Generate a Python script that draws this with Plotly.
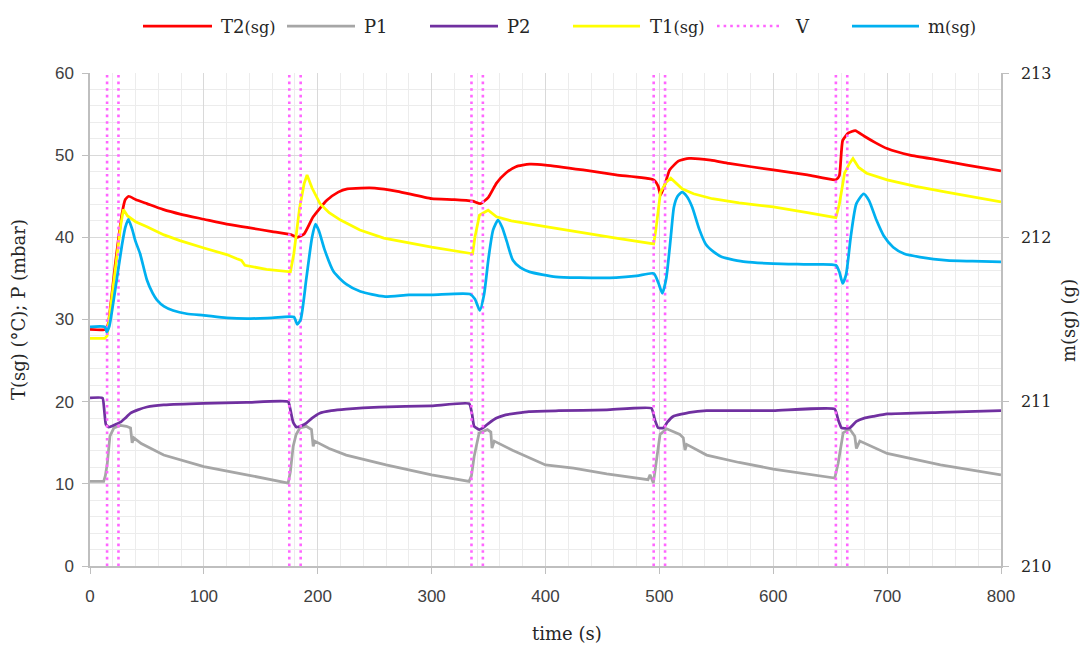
import plotly.graph_objects as go

# ---- series data -------------------------------------------------------
t_T2 = [0, 14, 16, 22, 28, 31, 34, 40, 50, 64, 80, 100, 120, 138, 160, 177, 182, 188, 196,
        208, 218, 226, 238, 250, 270, 300, 320, 336, 343, 350, 357, 365, 374, 386, 400, 433,
        462, 495, 499, 501, 505, 509, 517, 526, 545, 561, 600, 630, 655, 658, 661, 666, 672,
        680, 690, 700, 720, 746, 770, 800]
T2 = [28.8, 28.8, 29.5, 36.5, 42.8, 44.6, 45.0, 44.6, 44.1, 43.4, 42.8, 42.2, 41.6, 41.2, 40.7,
      40.3, 40.0, 40.4, 42.5, 44.5, 45.5, 45.9, 46.0, 46.0, 45.6, 44.7, 44.6, 44.4, 44.1, 44.9,
      46.6, 47.8, 48.6, 48.9, 48.8, 48.2, 47.6, 47.0, 46.2, 45.1, 46.5, 48.2, 49.3, 49.6, 49.4,
      49.0, 48.2, 47.6, 47.0, 47.5, 51.8, 52.7, 53.0, 52.3, 51.5, 50.8, 50.0, 49.4, 48.8, 48.1]

t_T1 = [0, 13, 15, 22, 27, 29.3, 33, 40, 50, 65, 79, 100, 120, 129, 133, 136, 145, 155, 176,
        179, 184, 188, 190.6, 195, 202, 210, 220, 237, 258, 300, 336, 338, 342, 349.6, 357, 370,
        400, 430, 462, 495, 497, 501, 506, 510, 515, 520, 530, 546.5, 570, 600, 630, 655, 658,
        662.6, 667, 670, 675, 682, 700, 725, 752, 775, 800]
T1 = [27.7, 27.7, 28.0, 36.0, 41.5, 43.4, 42.6, 41.9, 41.3, 40.3, 39.6, 38.7, 37.9, 37.4, 37.2,
      36.6, 36.4, 36.1, 35.8, 38.0, 43.5, 46.5, 47.6, 46.0, 44.1, 43.0, 42.1, 40.9, 39.9, 38.8,
      38.0, 40.0, 42.7, 43.3, 42.5, 42.0, 41.3, 40.6, 39.9, 39.2, 41.0, 45.5, 46.7, 47.2, 46.5,
      45.9, 45.3, 44.7, 44.2, 43.7, 43.0, 42.4, 44.0, 47.8, 49.0, 49.6, 48.5, 47.8, 47.0, 46.2,
      45.5, 44.9, 44.3]

t_P1 = [0, 12, 13.5, 15.2, 17.5, 21, 26.8, 32, 35.6, 37, 38.5, 45, 64.7, 100, 137.6, 174, 176,
        178.4, 181, 184.3, 190, 194.5, 196, 197.4, 210, 225, 260, 300, 333, 335, 337.3, 341.7,
        349, 352, 353, 355, 371, 400, 424.6, 453.8, 490, 491.8, 494.7, 497.7, 500.6, 506.4, 518,
        521, 522.5, 524, 541.5, 570, 600, 654, 657, 661.4, 667, 671.6, 673, 676, 700, 746.8, 800]
P1 = [10.3, 10.3, 11.0, 12.5, 15.8, 16.8, 17.1, 17.0, 16.8, 15.0, 15.6, 14.9, 13.5, 12.1, 11.1,
      10.1, 11.5, 14.55, 16.0, 16.8, 17.0, 16.6, 14.55, 15.2, 14.3, 13.5, 12.3, 11.1, 10.3, 11.0,
      13.3, 16.2, 16.6, 16.3, 14.35, 15.2, 14.1, 12.3, 11.9, 11.2, 10.5, 11.1, 10.1, 12.9, 16.0,
      16.7, 16.0, 15.6, 14.1, 14.8, 13.5, 12.6, 11.8, 10.7, 12.5, 16.2, 16.7, 15.8, 14.3, 15.2,
      13.7, 12.3, 11.1]

t_P2 = [0, 11, 12.5, 14, 16.6, 22, 26.8, 31, 35.6, 42, 50, 64.7, 100, 137.6, 174, 176, 178.4,
        181.3, 186, 190, 195, 201.7, 212, 225, 254, 300, 333, 335.5, 337.3, 341.7, 346, 350.4,
        357, 365, 385.4, 411.7, 453.8, 493, 496, 499, 503.5, 507, 512, 527, 541.5, 600, 654,
        657, 660, 667, 673, 680, 687.7, 700, 746.8, 800]
P2 = [20.45, 20.45, 19.0, 17.2, 16.9, 17.2, 17.5, 18.0, 18.6, 19.0, 19.35, 19.6, 19.8, 19.9,
      20.0, 19.0, 17.5, 16.9, 17.1, 17.4, 18.0, 18.6, 18.9, 19.1, 19.35, 19.5, 19.75, 18.5, 17.0,
      16.6, 16.9, 17.4, 18.0, 18.4, 18.8, 18.9, 19.0, 19.2, 17.8, 16.8, 16.8, 17.5, 18.2, 18.7,
      18.9, 18.9, 19.1, 17.8, 16.8, 16.8, 17.6, 18.0, 18.2, 18.5, 18.7, 18.9]

t_m = [0, 13, 14.7, 17, 22, 28, 31, 33.7, 37, 40, 44, 50, 55, 58.7, 65, 73, 85, 100, 120, 138,
       160, 179, 182, 185, 190, 195, 198, 201, 206, 214, 225, 237.5, 258, 280, 300, 333.5, 338,
       342.3, 346, 350, 354, 358.3, 362, 366, 371.4, 378, 386, 409, 430, 462, 480, 495, 499,
       502.6, 506, 510, 512.8, 516, 520, 524, 528.8, 535, 540.6, 548, 555, 575.9, 600, 630, 655,
       658, 661, 664, 668, 673, 679.4, 684, 690.6, 697, 705.3, 715, 728.8, 752.4, 775, 800]
m_sg = [211.455, 211.455, 211.425, 211.46, 211.675, 211.95, 212.06, 212.11, 212.05, 211.975,
        211.90, 211.74, 211.66, 211.62, 211.58, 211.555, 211.535, 211.525, 211.51, 211.505,
        211.51, 211.515, 211.47, 211.50, 211.75, 212.00, 212.08, 212.04, 211.925, 211.79,
        211.715, 211.67, 211.64, 211.65, 211.65, 211.655, 211.625, 211.555, 211.65, 211.875,
        212.045, 212.105, 212.06, 211.975, 211.86, 211.815, 211.79, 211.76, 211.755, 211.755,
        211.765, 211.78, 211.725, 211.66, 211.75, 212.00, 212.185, 212.25, 212.275, 212.25,
        212.185, 212.05, 211.96, 211.91, 211.88, 211.85, 211.84, 211.835, 211.83, 211.79,
        211.72, 211.775, 212.00, 212.205, 212.265, 212.225, 212.105, 212.01, 211.94, 211.90,
        211.88, 211.86, 211.855, 211.85]

# valve switching instants
v_switch = [15, 25, 175, 185, 335, 345, 495, 505, 655, 665]

# ---- axes ---------------------------------------------------------------
x_ticks = [0, 100, 200, 300, 400, 500, 600, 700, 800]
y_ticks = [0, 10, 20, 30, 40, 50, 60]
y2_ticks = [210, 211, 212, 213]
y_range = [0, 60]
y2_range = [210, 213]

RED, GREY, PURPLE, YELLOW, PINK, BLUE = "#ff0000", "#a6a6a6", "#7030a0", "#ffff00", "#ff66ff", "#00b0f0"
SERIF = "DejaVu Serif"
SANS = "Liberation Sans"
LW = 2.75
DOTS = "2.6px,4px"

# vertical valve markers spanning the left axis
vx, vy = [], []
for ts in v_switch:
    vx += [ts, ts, None]
    vy += [y_range[0], y_range[1], None]

fig = go.Figure()
fig.add_trace(go.Scatter(x=t_T2, y=T2, mode="lines", name="T2(sg)",
                         line=dict(color=RED, width=LW, shape="spline", smoothing=0.5)))
fig.add_trace(go.Scatter(x=t_P1, y=P1, mode="lines", name="P1", line=dict(color=GREY, width=LW)))
fig.add_trace(go.Scatter(x=t_P2, y=P2, mode="lines", name="P2",
                         line=dict(color=PURPLE, width=LW, shape="spline", smoothing=0.4)))
fig.add_trace(go.Scatter(x=t_T1, y=T1, mode="lines", name="T1(sg)", line=dict(color=YELLOW, width=LW)))
fig.add_trace(go.Scatter(x=vx, y=vy, mode="lines", name="V",
                         line=dict(color=PINK, width=2.6, dash=DOTS)))
fig.add_trace(go.Scatter(x=t_m, y=m_sg, mode="lines", name="m(sg)", yaxis="y2",
                         line=dict(color=BLUE, width=LW, shape="spline", smoothing=0.6)))

L, R, T, B = 90, 79, 73, 80
W, H = 1080, 646
PW, PH = W - L - R, H - T - B


def px2paper(px, py):
    return (px - L) / PW, (H - B - py) / PH


# custom legend row: (line start, line end, text start, label, colour, dotted)
legend_items = [
    (143, 212, 219, "T2<span style='font-size:16px'>(sg)</span>", RED, False),
    (287, 355, 362, "P1", GREY, False),
    (430, 498, 505, "P2", PURPLE, False),
    (573, 640, 648, "T1<span style='font-size:16px'>(sg)</span>", YELLOW, False),
    (717, 783, 793, "V", PINK, True),
    (852, 919, 926, "m<span style='font-size:16px'>(sg)</span>", BLUE, False),
]
shapes, annotations = [], []
for x0, x1, xt, label, col, dotted in legend_items:
    ax0, ay = px2paper(x0, 26)
    ax1, _ = px2paper(x1, 26)
    line = dict(color=col, width=2.6 if dotted else LW)
    if dotted:
        line["dash"] = DOTS
    shapes.append(dict(type="line", xref="paper", yref="paper", x0=ax0, x1=ax1, y0=ay, y1=ay, line=line))
    tx, ty = px2paper(xt, 27)
    annotations.append(dict(xref="paper", yref="paper", x=tx, y=ty, xanchor="left", yanchor="middle",
                            text=label, showarrow=False, font=dict(family=SERIF, size=18, color="#262626")))

# axis titles
ax_, ay_ = px2paper(567, 633)
annotations.append(dict(xref="paper", yref="paper", x=ax_, y=ay_, text="time (s)", showarrow=False,
                        xanchor="center", yanchor="middle", font=dict(family=SERIF, size=18, color="#262626")))
ax_, ay_ = px2paper(18, 310)
annotations.append(dict(xref="paper", yref="paper", x=ax_, y=ay_, text="T(sg) (°C); P (mbar)",
                        textangle=-90, showarrow=False, xanchor="center", yanchor="middle",
                        font=dict(family=SERIF, size=18, color="#262626")))
ax_, ay_ = px2paper(1068, 321)
annotations.append(dict(xref="paper", yref="paper", x=ax_, y=ay_, text="m(sg) (g)",
                        textangle=-90, showarrow=False, xanchor="center", yanchor="middle",
                        font=dict(family=SERIF, size=18, color="#262626")))

fig.update_layout(
    width=W, height=H,
    margin=dict(l=L, r=R, t=T, b=B, pad=0),
    paper_bgcolor="white", plot_bgcolor="white",
    showlegend=False,
    shapes=shapes, annotations=annotations,
    xaxis=dict(range=[0, 800], tickvals=x_ticks, ticktext=[str(v) for v in x_ticks],
               showgrid=True, gridcolor="#d9d9d9", gridwidth=1,
               minor=dict(dtick=20, showgrid=True, gridcolor="#ececec", gridwidth=1),
               showline=True, linecolor="#bfbfbf", linewidth=1.5,
               ticks="outside", ticklen=6, tickcolor="#bfbfbf",
               ticklabelstandoff=8, zeroline=False,
               tickfont=dict(family=SANS, size=17, color="#404040")),
    yaxis=dict(range=y_range, tickvals=y_ticks, ticktext=[str(v) for v in y_ticks],
               showgrid=True, gridcolor="#d9d9d9", gridwidth=1,
               minor=dict(dtick=2, showgrid=True, gridcolor="#ececec", gridwidth=1),
               showline=True, linecolor="#bfbfbf", linewidth=1.5,
               ticks="outside", ticklen=6, tickcolor="#bfbfbf",
               ticklabelstandoff=5, zeroline=False,
               tickfont=dict(family=SANS, size=17, color="#404040")),
    yaxis2=dict(range=y2_range, tickvals=y2_ticks, ticktext=[str(v) for v in y2_ticks],
                overlaying="y", side="right", showgrid=False, zeroline=False,
                showline=True, linecolor="#bfbfbf", linewidth=1.5,
                ticks="outside", ticklen=6, tickcolor="#bfbfbf",
                ticklabelstandoff=9,
                tickfont=dict(family=SERIF, size=16, color="#262626")),
)

fig.write_html("out.html", config={"displayModeBar": False})
